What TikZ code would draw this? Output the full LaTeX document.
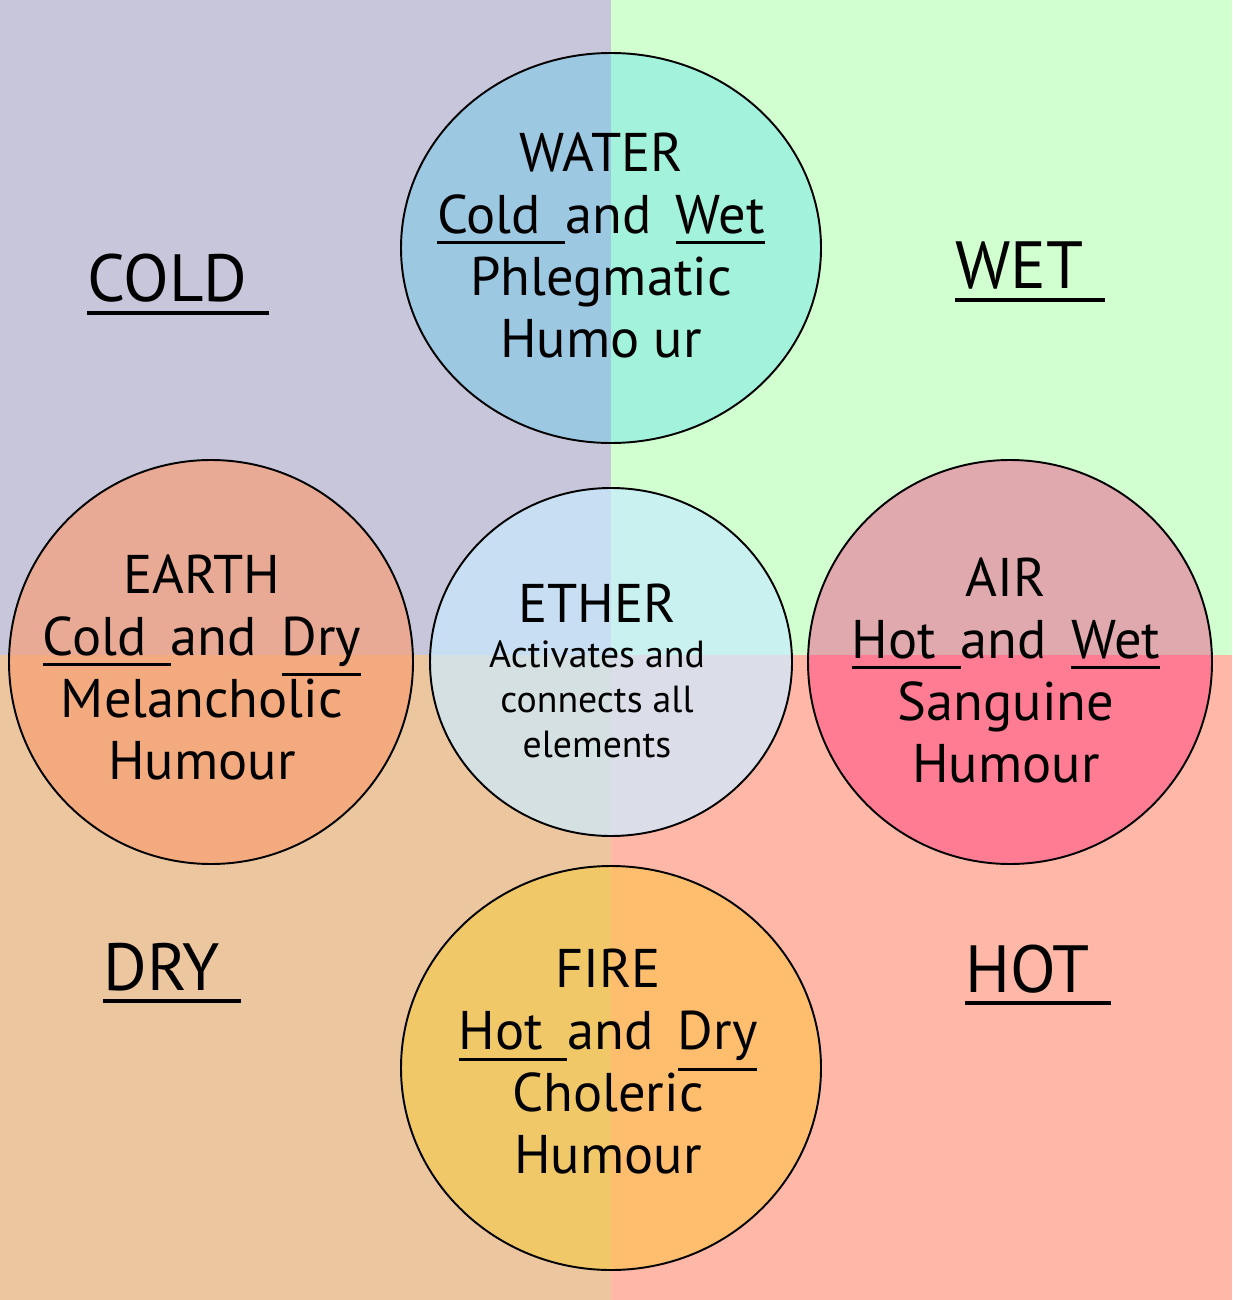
\documentclass[tikz,border=0pt]{standalone}
\usepackage{fontspec}
\setmainfont{PT Sans}
\definecolor{coldbg}{HTML}{C8C6DA}
\definecolor{wetbg}{HTML}{D2FFD0}
\definecolor{drybg}{HTML}{EBC69F}
\definecolor{hotbg}{HTML}{FFB8A8}
\definecolor{waterL}{HTML}{9CC8E2}
\definecolor{waterR}{HTML}{A2F2DC}
\definecolor{earthT}{HTML}{E8AA94}
\definecolor{earthB}{HTML}{F3AA7E}
\definecolor{etherTL}{HTML}{C8DFF3}
\definecolor{etherTR}{HTML}{C9F1F0}
\definecolor{etherBL}{HTML}{D4E0E2}
\definecolor{etherBR}{HTML}{DBDEE8}
\definecolor{airT}{HTML}{E0A9AE}
\definecolor{airB}{HTML}{FF7C93}
\definecolor{fireL}{HTML}{F0C868}
\definecolor{fireR}{HTML}{FFBD6E}
% underlined word, rule below the baseline
\newcommand{\ulword}[1]{\leavevmode\vtop{\hbox{#1}\kern.13em\hrule height .055em}}
\begin{document}
\begin{tikzpicture}[x=0.02cm,y=-0.02cm,
    elemtext/.style={align=center, inner sep=0pt, font=\fontsize{31}{35.3}\selectfont},
    quality/.style={anchor=base west, inner sep=0pt, font=\fontsize{38}{44}\selectfont}]
    \useasboundingbox (0,0) rectangle (1232,1300);
    % quadrants
    \fill[coldbg] (0,0) rectangle (611,655);
    \fill[wetbg] (611,0) rectangle (1232,655);
    \fill[drybg] (0,655) rectangle (611,1300);
    \fill[hotbg] (611,655) rectangle (1232,1300);
    % discs
    \foreach \cx/\cy/\rx/\ry/\ctl/\ctr/\cbl/\cbr in {
        611/248/210/195/waterL/waterR/waterL/waterR,
        211/662/202/202/earthT/earthT/earthB/earthB,
        611/662/181/174/etherTL/etherTR/etherBL/etherBR,
        1010/662/202/202/airT/airT/airB/airB,
        611/1068/210/202/fireL/fireR/fireL/fireR}
    {
        \begin{scope}
            \clip (\cx,\cy) ellipse [x radius=\rx, y radius=\ry];
            \fill[\ctl] (0,0) rectangle (611,655);
            \fill[\ctr] (611,0) rectangle (1232,655);
            \fill[\cbl] (0,655) rectangle (611,1300);
            \fill[\cbr] (611,655) rectangle (1232,1300);
        \end{scope}
        \draw[line width=1.1pt] (\cx,\cy) ellipse [x radius=\rx, y radius=\ry];
    }
    % element texts
    \node[elemtext] (water) at (601,245) {WATER\\ \ulword{Cold\hspace{.45em}}and\hspace{.45em}\ulword{Wet}\\ Phlegmatic\\ Humo ur};
    \node[elemtext] (earth) at (202,667) {EARTH\\ \ulword{Cold\hspace{.45em}}and\hspace{.45em}\ulword{Dry}\\ Melancholic\\ Humour};
    \node[elemtext] (air) at (1006,670) {AIR\\ \ulword{Hot\hspace{.45em}}and\hspace{.45em}\ulword{Wet}\\ Sanguine\\ Humour};
    \node[elemtext] (fire) at (608,1062) {FIRE\\ \ulword{Hot\hspace{.45em}}and\hspace{.45em}\ulword{Dry}\\ Choleric\\ Humour};
    \node[elemtext, font=\fontsize{21.5}{25.6}\selectfont] (ether) at (597,671)
        {{\fontsize{31}{35.3}\selectfont ETHER}\\ Activates and\\ connects all\\ elements};
    % qualities
    \node[quality] (cold) at (87,302) {\ulword{COLD\hspace{.32em}}};
    \node[quality] (wet) at (955,289) {\ulword{WET\hspace{.32em}}};
    \node[quality] (dry) at (103,990) {\ulword{DRY\hspace{.32em}}};
    \node[quality] (hot) at (965,992) {\ulword{HOT\hspace{.32em}}};
\end{tikzpicture}
\end{document}
